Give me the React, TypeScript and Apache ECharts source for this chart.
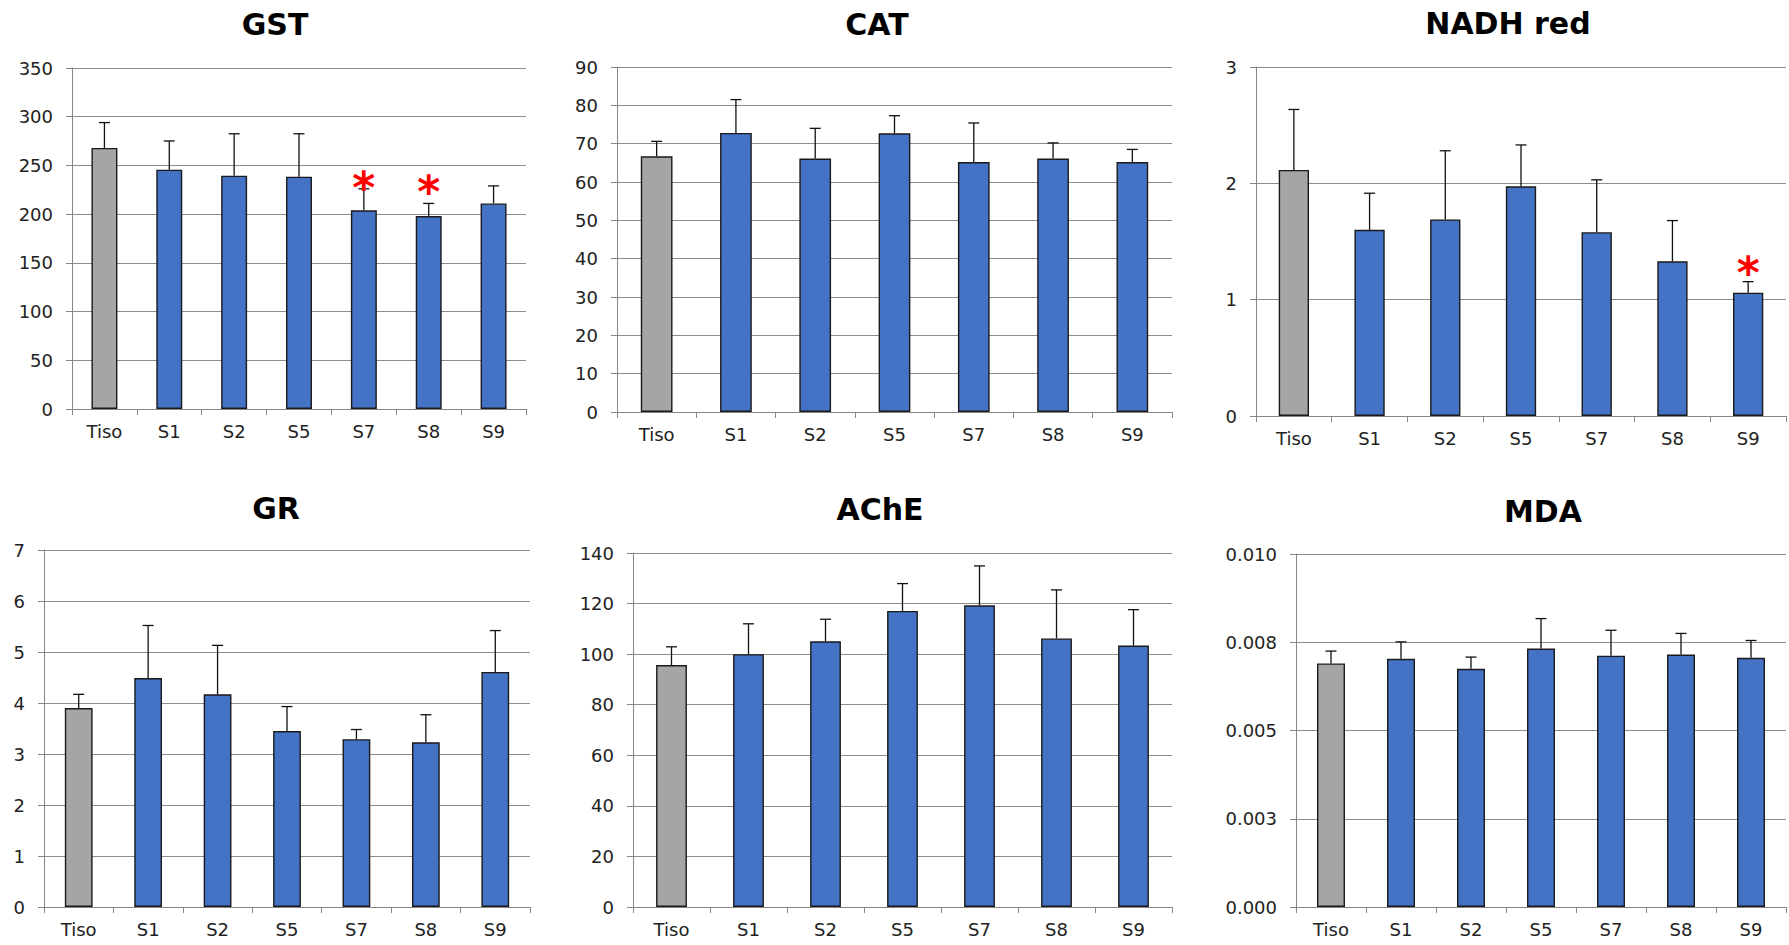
import React, { useEffect, useRef } from "react";
import * as echarts from "echarts";

const categories = ["Tiso", "S1", "S2", "S5", "S7", "S8", "S9"];

const gstMean = [268, 245.6, 239.5, 238.5, 204, 198, 211];
const gstErr = [26, 29.5, 43, 44, 22, 13, 18];
const gstStar = [null, null, null, null, 236, 231, null];

const catMean = [66.7, 72.8, 66.1, 72.7, 65.2, 66.1, 65.2];
const catErr = [3.9, 8.7, 7.9, 4.6, 10.2, 4.1, 3.3];

const nadhMean = [2.115, 1.6, 1.69, 1.975, 1.58, 1.33, 1.06];
const nadhErr = [0.52, 0.315, 0.59, 0.355, 0.45, 0.35, 0.095];
const nadhStar = [null, null, null, null, null, null, 1.3];

const grMean = [3.9, 4.49, 4.17, 3.45, 3.29, 3.23, 4.61];
const grErr = [0.27, 1.03, 0.96, 0.48, 0.19, 0.54, 0.81];

const acheMean = [95.7, 100, 105.1, 117.1, 119.3, 106.2, 103.4];
const acheErr = [7.2, 12, 8.7, 10.8, 15.6, 19.2, 14.2];

const mdaMean = [0.0069, 0.00703, 0.00675, 0.00732, 0.00712, 0.00715, 0.00706];
const mdaErr = [0.00035, 0.00048, 0.00033, 0.00085, 0.00072, 0.0006, 0.00049];
const mdaTickLabels = ["0.000", "0.003", "0.005", "0.008", "0.010"];

const FONT = "DejaVu Sans";

type Panel = {
  title: string;
  cx: number;
  cy: number;
  grid: { left: number; top: number; width: number; height: number };
  mean: number[];
  err: number[];
  star?: (number | null)[];
  max: number;
  interval: number;
  fmt?: (v: number) => string;
};

const panels: Panel[] = [
  { title: "GST", cx: 275, cy: 24, grid: { left: 72, top: 68, width: 454, height: 341 }, mean: gstMean, err: gstErr, star: gstStar, max: 350, interval: 50 },
  { title: "CAT", cx: 877, cy: 24, grid: { left: 617, top: 67, width: 555, height: 345 }, mean: catMean, err: catErr, max: 90, interval: 10 },
  { title: "NADH red", cx: 1508, cy: 23, grid: { left: 1256, top: 67, width: 530, height: 349 }, mean: nadhMean, err: nadhErr, star: nadhStar, max: 3, interval: 1 },
  { title: "GR", cx: 276, cy: 508, grid: { left: 44, top: 550, width: 486, height: 357 }, mean: grMean, err: grErr, max: 7, interval: 1 },
  { title: "AChE", cx: 880, cy: 509, grid: { left: 633, top: 553, width: 539, height: 354 }, mean: acheMean, err: acheErr, max: 140, interval: 20 },
  { title: "MDA", cx: 1543, cy: 511, grid: { left: 1296, top: 554, width: 490, height: 353 }, mean: mdaMean, err: mdaErr, max: 0.01, interval: 0.0025, fmt: (v: number) => mdaTickLabels[Math.round(v / 0.0025)] },
];

export default function App() {
  const ref = useRef<HTMLDivElement>(null);
  useEffect(() => {
    document.body.style.margin = "0";
    if (!ref.current) return;
    const chart = echarts.init(ref.current, undefined, { renderer: "svg" });
    const grids: any[] = [];
    const xAxes: any[] = [];
    const yAxes: any[] = [];
    const series: any[] = [];
    const graphics: any[] = [];
    panels.forEach((p, k) => {
      grids.push({ ...p.grid, containLabel: false });
      xAxes.push({
        type: "category",
        gridIndex: k,
        data: categories,
        axisLine: { lineStyle: { color: "#868686", width: 1 } },
        axisTick: { show: true, length: 6, lineStyle: { color: "#868686" } },
        axisLabel: { fontFamily: FONT, fontSize: 18, color: "#222", margin: 13 },
      });
      yAxes.push({
        type: "value",
        gridIndex: k,
        min: 0,
        max: p.max,
        interval: p.interval,
        axisLine: { show: true, lineStyle: { color: "#868686", width: 1 } },
        axisTick: { show: true, length: 6, lineStyle: { color: "#868686" } },
        axisLabel: { fontFamily: FONT, fontSize: 18, color: "#222", margin: 19, formatter: p.fmt },
        splitLine: { show: true, lineStyle: { color: "#8c8c8c", width: 1 } },
      });
      series.push({
        type: "bar",
        xAxisIndex: k,
        yAxisIndex: k,
        barWidth: "40%",
        data: p.mean.map((v, i) =>
          i === 0 ? { value: v, itemStyle: { color: "#A5A5A5" } } : v
        ),
        itemStyle: { color: "#4472C4", borderColor: "#1a1a1a", borderWidth: 1.4 },
        z: 2,
      });
      series.push({
        type: "custom",
        xAxisIndex: k,
        yAxisIndex: k,
        z: 3,
        data: p.mean.map((v, i) => [i, v, p.err[i]]),
        renderItem: (params: any, api: any) => {
          const x = api.value(0);
          const y = api.value(1);
          const e = api.value(2);
          const p0 = api.coord([x, y]);
          const p1 = api.coord([x, y + e]);
          return {
            type: "group",
            children: [
              { type: "line", shape: { x1: p0[0], y1: p0[1], x2: p1[0], y2: p1[1] }, style: { stroke: "#111", lineWidth: 1.3 } },
              { type: "line", shape: { x1: p1[0] - 5.5, y1: p1[1], x2: p1[0] + 5.5, y2: p1[1] }, style: { stroke: "#111", lineWidth: 1.3 } },
            ],
          };
        },
      });
      if (p.star) {
        const sd = p.star
          .map((v, i) => (v == null ? null : [i, v]))
          .filter((d) => d != null);
        series.push({
          type: "custom",
          xAxisIndex: k,
          yAxisIndex: k,
          z: 4,
          data: sd,
          renderItem: (params: any, api: any) => {
            const c = api.coord([api.value(0), api.value(1)]);
            return {
              type: "text",
              x: c[0],
              y: c[1] + 8,
              style: {
                text: "*",
                fill: "#ff0000",
                font: `bold 44px "${FONT}"`,
                textAlign: "center",
                textVerticalAlign: "middle",
              },
            };
          },
        });
      }
      graphics.push({
        type: "text",
        x: p.cx,
        y: p.cy,
        style: {
          text: p.title,
          fill: "#000",
          font: `bold 30px "${FONT}"`,
          textAlign: "center",
          textVerticalAlign: "middle",
        },
      });
    });
    chart.setOption({
      animation: false,
      backgroundColor: "#ffffff",
      grid: grids,
      xAxis: xAxes,
      yAxis: yAxes,
      series,
      graphic: graphics,
    });
    return () => chart.dispose();
  }, []);
  return <div ref={ref} style={{ width: 1789, height: 945 }} />;
}
